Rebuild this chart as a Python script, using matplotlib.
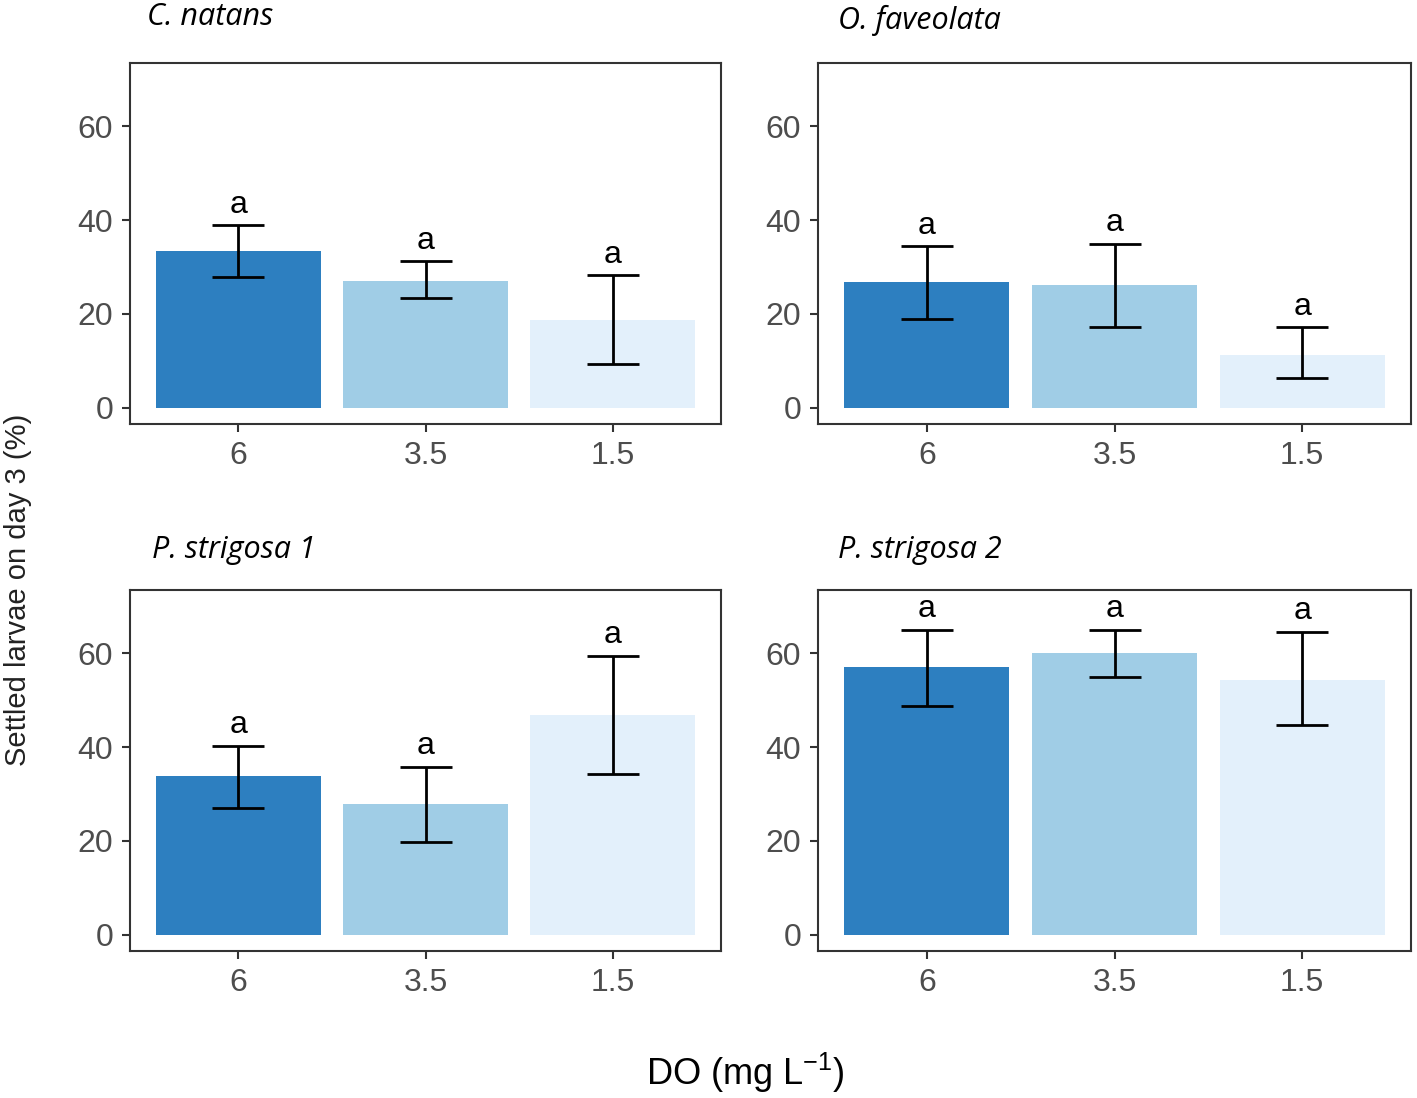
import matplotlib
matplotlib.use("Agg")
import matplotlib.pyplot as plt

plt.rcParams["mathtext.fontset"] = "custom"
plt.rcParams["mathtext.rm"] = "Liberation Sans"

categories = ["6", "3.5", "1.5"]
species = ["C. natans", "O. faveolata", "P. strigosa 1", "P. strigosa 2"]
means = {
    "C. natans": [33.3, 27.1, 18.6],
    "O. faveolata": [26.7, 26.1, 11.3],
    "P. strigosa 1": [33.9, 27.8, 46.8],
    "P. strigosa 2": [57.0, 60.0, 54.3],
}
err_hi = {
    "C. natans": [38.9, 31.2, 28.2],
    "O. faveolata": [34.4, 35.0, 17.1],
    "P. strigosa 1": [40.3, 35.8, 59.5],
    "P. strigosa 2": [65.0, 65.0, 64.6],
}
err_lo = {
    "C. natans": [27.8, 23.3, 9.4],
    "O. faveolata": [19.0, 17.1, 6.4],
    "P. strigosa 1": [27.1, 19.7, 34.3],
    "P. strigosa 2": [48.8, 54.9, 44.8],
}
letters = ["a", "a", "a"]
yticks = [0, 20, 40, 60]
colors = ["#2D7FC0", "#A0CDE6", "#E3F0FB"]

W, H = 1417, 1098
fig = plt.figure(figsize=(W / 100, H / 100), dpi=100)

panels = [(130, 721, 63, 424), (818, 1411, 63, 424),
          (130, 721, 590, 951), (818, 1411, 590, 951)]
title_pos = [(147, 17), (838, 20), (152, 550), (838, 550)]

for sp, (l, r, t, b), (tx, ty) in zip(species, panels, title_pos):
    ax = fig.add_axes([l / W, 1 - b / H, (r - l) / W, (b - t) / H])
    x = list(range(len(categories)))
    ax.bar(x, means[sp], width=0.88, color=colors, edgecolor="none", zorder=1)
    m = means[sp]
    lo = [mm - e for mm, e in zip(m, err_lo[sp])]
    hi = [e - mm for mm, e in zip(m, err_hi[sp])]
    ax.errorbar(x, m, yerr=[lo, hi], fmt="none", ecolor="black",
                elinewidth=2, capsize=19, capthick=2, zorder=3)
    for xi, eh, let in zip(x, err_hi[sp], letters):
        ax.text(xi, eh + 1.2, let, ha="center", va="bottom", fontsize=23,
                family="Liberation Sans", color="black")
    ax.set_xlim(-0.58, 2.58)
    ax.set_ylim(-3.5, 73.5)
    ax.set_yticks(yticks)
    ax.set_xticks(x)
    ax.set_xticklabels(categories)
    ax.tick_params(axis="both", colors="#333333", labelcolor="#4D4D4D",
                   labelsize=23, length=6, width=1.5, pad=6)
    for lab in ax.get_xticklabels() + ax.get_yticklabels():
        lab.set_family("Liberation Sans")
    for s in ax.spines.values():
        s.set_color("#333333")
        s.set_linewidth(1.5)
    fig.text(tx / W, 1 - ty / H, sp, ha="left", va="center", fontsize=22,
             style="italic", family="Open Sans", color="black")

fig.text(18 / W, 1 - 590 / H, "Settled larvae on day 3 (%)", rotation=90,
         ha="center", va="center", fontsize=21, family="Liberation Sans",
         color="#222222")
fig.text(745 / W, 1 - 1073 / H, r"DO (mg L$^{-1}$)", ha="center", va="center",
         fontsize=26, family="Liberation Sans", color="black")

fig.savefig("out.png", dpi=100, facecolor="white")
